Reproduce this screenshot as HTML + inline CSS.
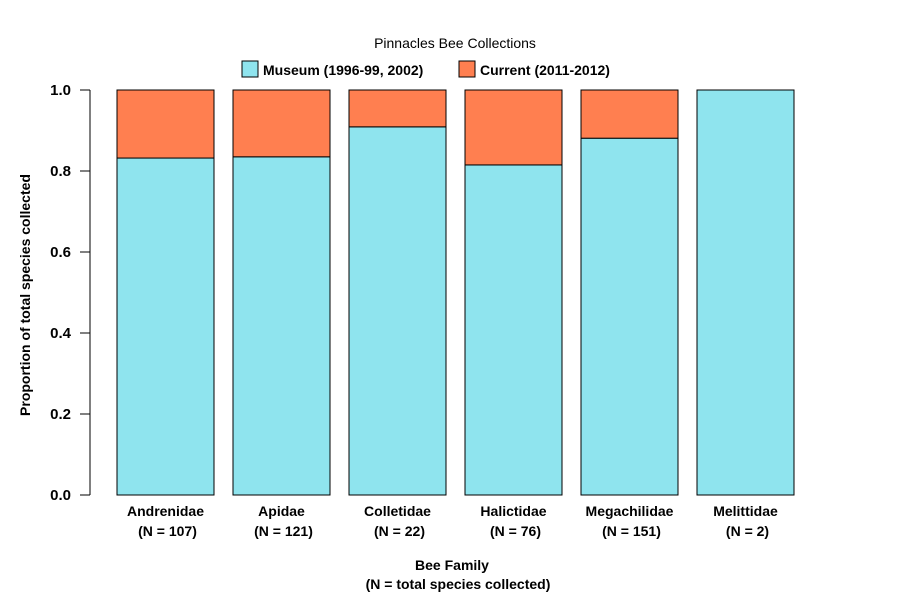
<!DOCTYPE html>
<html><head><meta charset="utf-8"><style>body{margin:0;background:#fff}text{font-family:"Liberation Sans",Arial,sans-serif}</style></head>
<body>
<svg width="900" height="600" xmlns="http://www.w3.org/2000/svg">
<text x="455" y="48" text-anchor="middle" font-size="14">Pinnacles Bee Collections</text>
<rect x="242" y="61" width="16" height="16" fill="#8FE4EE" stroke="#000"/>
<text x="263" y="75" font-size="14" font-weight="bold">Museum (1996-99, 2002)</text>
<rect x="459" y="61" width="16" height="16" fill="#FF7F50" stroke="#000"/>
<text x="480" y="75" font-size="14" font-weight="bold">Current (2011-2012)</text>
<g id="axis"></g>
<g id="bars"></g>
<text transform="translate(30,295) rotate(-90)" text-anchor="middle" font-size="14" font-weight="bold">Proportion of total species collected</text>
<text x="452" y="570" text-anchor="middle" font-size="14" font-weight="bold">Bee Family</text>
<text x="458" y="589" text-anchor="middle" font-size="14" font-weight="bold">(N = total species collected)</text>
</svg>
<script>
const categories=["Andrenidae","Apidae","Colletidae","Halictidae","Megachilidae","Melittidae"];
const counts=["107","121","22","76","151","2"];
const museum=[0.832,0.835,0.909,0.815,0.881,1.0];
const ticks=[0,0.2,0.4,0.6,0.8,1.0];
const tickLabels=["0.0","0.2","0.4","0.6","0.8","1.0"];
const NS="http://www.w3.org/2000/svg";
const y=v=>495-v*405;
const bx=i=>117+i*116;
const bw=97;
function mk(tag,attrs,parent){const e=document.createElementNS(NS,tag);for(const k in attrs)e.setAttribute(k,attrs[k]);parent.appendChild(e);return e;}
const ax=document.getElementById('axis');
let l=mk('line',{x1:90,x2:90,y1:y(1),y2:y(0),stroke:'#000'},ax);


ticks.forEach((t,i)=>{
 let tk=mk('line',{x1:80,x2:90,y1:y(t),y2:y(t),stroke:'#000'},ax);
 
 
 let tx=mk('text',{x:71,y:y(t)+5,'text-anchor':'end','font-size':15,'font-weight':'bold'},ax);
 tx.textContent=tickLabels[i];
 
 
});
const g=document.getElementById('bars');
categories.forEach((c,i)=>{
 const m=museum[i];
 let r1=mk('rect',{x:bx(i),y:y(m),width:bw,height:y(0)-y(m),fill:'#8FE4EE',stroke:'#000'},g);
 
 
 if(m<1){
 let r2=mk('rect',{x:bx(i),y:y(1),width:bw,height:y(m)-y(1),fill:'#FF7F50',stroke:'#000'},g);
 
 }
 let t1=mk('text',{x:bx(i)+bw/2,y:516,'text-anchor':'middle','font-size':14,'font-weight':'bold'},g);
 t1.textContent=c;
 
 
 let t2=mk('text',{x:bx(i)+bw/2+2,y:536,'text-anchor':'middle','font-size':14,'font-weight':'bold'},g);
 t2.textContent='(N = '+counts[i]+')';
 
 
});
</script>
</body></html>
